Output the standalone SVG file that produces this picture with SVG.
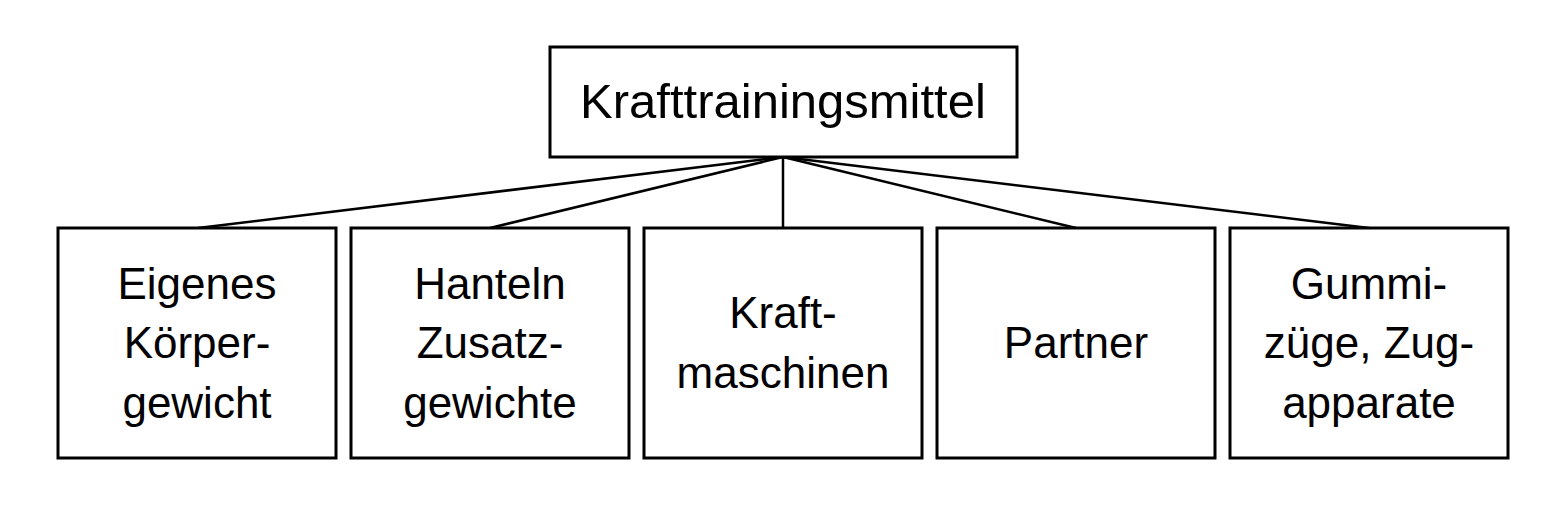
<svg xmlns="http://www.w3.org/2000/svg" width="1560" height="520" viewBox="0 0 1560 520">
<style>
.box{fill:#fff;stroke:#000;stroke-width:3}
.t{font-family:"Liberation Sans",Arial,sans-serif;font-size:44px;fill:#000;text-anchor:middle}
.tt{font-size:49px}
.c{stroke:#000;stroke-width:2.5;fill:none}
</style>
<rect width="1560" height="520" fill="#fff"/>
<g id="connectors">
<line class="c" x1="783" y1="157" x2="198" y2="228"/>
<line class="c" x1="783" y1="157" x2="490" y2="228"/>
<line class="c" x1="783" y1="157" x2="783" y2="228"/>
<line class="c" x1="783" y1="157" x2="1076" y2="228"/>
<line class="c" x1="783" y1="157" x2="1369" y2="228"/>
</g>
<g id="root">
<rect class="box" x="550" y="47" width="467" height="110"/>
<text class="t tt" x="783" y="118">Krafttrainingsmittel</text>
</g>
<g id="n1">
<rect class="box" x="58" y="228" width="278" height="230"/>
<text class="t" x="197" y="299">Eigenes</text>
<text class="t" x="197" y="358">Körper-</text>
<text class="t" x="197" y="418">gewicht</text>
</g>
<g id="n2">
<rect class="box" x="351" y="228" width="278" height="230"/>
<text class="t" x="490" y="299">Hanteln</text>
<text class="t" x="490" y="358">Zusatz-</text>
<text class="t" x="490" y="418">gewichte</text>
</g>
<g id="n3">
<rect class="box" x="644" y="228" width="278" height="230"/>
<text class="t" x="783" y="328">Kraft-</text>
<text class="t" x="783" y="388">maschinen</text>
</g>
<g id="n4">
<rect class="box" x="937" y="228" width="278" height="230"/>
<text class="t" x="1076" y="358">Partner</text>
</g>
<g id="n5">
<rect class="box" x="1230" y="228" width="278" height="230"/>
<text class="t" x="1369" y="299">Gummi-</text>
<text class="t" x="1369" y="358">züge, Zug-</text>
<text class="t" x="1369" y="418">apparate</text>
</g>
</svg>
